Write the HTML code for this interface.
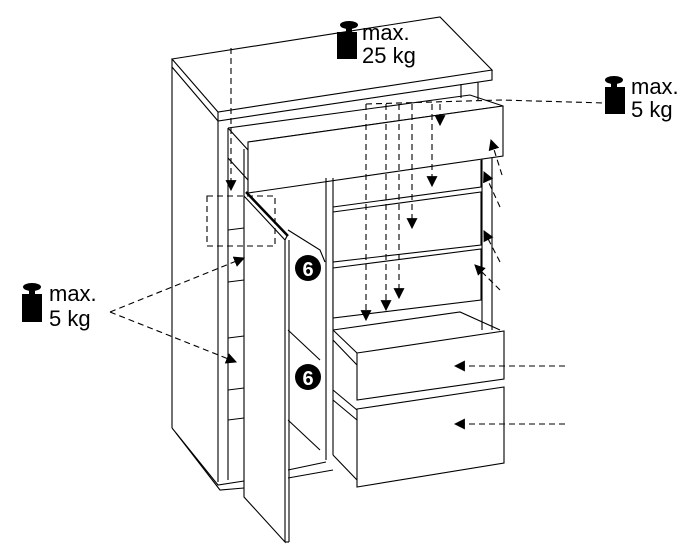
<!DOCTYPE html>
<html><head><style>html,body{margin:0;padding:0;background:#fff;}svg{display:block}</style></head>
<body>
<svg width="694" height="555" viewBox="0 0 694 555" xmlns="http://www.w3.org/2000/svg" font-family="Liberation Sans, sans-serif">
<defs>
<marker id="a" viewBox="0 0 10 10" refX="9" refY="5" markerWidth="10" markerHeight="10" orient="auto"><path d="M0,0L10,5L0,10z" fill="#000"/></marker>
</defs>
<g fill="none" stroke="#000" stroke-width="1.1">
<path d="M172,59 L440,17 L492,70 L218,112 Z" fill="#fff"/>
<path d="M172,59 L172,67 L218,121 L492,80 L492,70"/>
<line x1="218" y1="112" x2="218" y2="121"/>
<line x1="172" y1="67" x2="172" y2="428"/>
<path d="M172,428 L218,485 L244,481"/>
<path d="M176,433 L220,490 L244,488"/>
<line x1="218" y1="121" x2="218" y2="482"/>
<line x1="228" y1="128" x2="228" y2="480"/>
<line x1="228" y1="128" x2="248" y2="150"/>
<line x1="228" y1="158" x2="248" y2="180"/>
<line x1="228" y1="230" x2="244" y2="228"/>
<line x1="228" y1="282" x2="244" y2="280"/>
<line x1="228" y1="338" x2="244" y2="336"/>
<line x1="228" y1="390" x2="244" y2="388"/>
<line x1="228" y1="420" x2="244" y2="418"/>
<line x1="461" y1="84" x2="461" y2="98"/>
<line x1="478" y1="82" x2="478" y2="100"/>
<line x1="482" y1="157" x2="482" y2="330"/>
<line x1="492" y1="152" x2="492" y2="330"/>
<path d="M228,128 L470,95 L503,106 L248,142" />
<path d="M248,142 L503,106 L503,156 L248,193 Z" fill="#fff"/>
<line x1="244" y1="149" x2="244" y2="196"/>
<line x1="326" y1="178" x2="326" y2="460"/>
<line x1="333" y1="178" x2="333" y2="455"/>
<path d="M333,207 L481,187 L481,160"/>
<path d="M333,212 L481,192 L481,245 L333,262 Z" fill="#fff"/>
<path d="M333,268 L481,249 L481,300 L333,318 Z" fill="#fff"/>
<path d="M333,330 L460,312 L500,330"/>
<path d="M333,330 L357,353"/>
<path d="M333,340 L357,365"/>
<path d="M357,353 L504,331 L504,379 L357,400 Z" fill="#fff"/>
<path d="M333,390 L357,410"/>
<path d="M333,400 L357,420"/>
<path d="M357,409 L504,387 L504,463 L357,487 Z" fill="#fff"/>
<path d="M333,455 L357,480"/>
<path d="M288,478 L333,470"/>
<path d="M288,470 L326,462"/>
<path d="M244,196 L285,240 L285,542 L244,497 Z" fill="#fff"/>
<line x1="289" y1="240" x2="289" y2="542"/>
<line x1="285" y1="542" x2="289" y2="542"/>
<path d="M246,192 L288,236" stroke-width="2.5"/>
<path d="M285,240 L287,236"/>
<path d="M288,230 L320,250 L325,262"/>
<path d="M288,330 L320,360"/>
<path d="M288,420 L320,450"/>
</g>
<g>
<circle cx="308" cy="268" r="13" fill="#000"/><text x="308" y="276" font-size="20" font-weight="bold" fill="#fff" text-anchor="middle">6</text>
<circle cx="308" cy="377" r="13" fill="#000"/><text x="308" y="385" font-size="20" font-weight="bold" fill="#fff" text-anchor="middle">6</text>
</g>
<g fill="none" stroke="#000" stroke-width="1.1" stroke-dasharray="6,4" marker-end="url(#a)">
<line x1="231" y1="48" x2="231" y2="190"/>
<line x1="366" y1="104" x2="366" y2="320"/>
<line x1="386" y1="104" x2="386" y2="310"/>
<line x1="399" y1="104" x2="399" y2="298"/>
<line x1="412" y1="104" x2="412" y2="228"/>
<line x1="432" y1="104" x2="432" y2="186"/>
<line x1="440" y1="104" x2="440" y2="125"/>
<line x1="110" y1="312" x2="244" y2="258"/>
<line x1="110" y1="312" x2="236" y2="362"/>
<line x1="565" y1="366" x2="455" y2="366"/>
<line x1="565" y1="424" x2="455" y2="424"/>
<line x1="502" y1="175" x2="491" y2="140"/>
<line x1="500" y1="207" x2="484" y2="172"/>
<line x1="500" y1="262" x2="484" y2="231"/>
<line x1="500" y1="290" x2="475" y2="265"/>
</g>
<g fill="none" stroke="#000" stroke-width="1.1" stroke-dasharray="6,4">
<path d="M366,104 L500,100 L605,103"/>
<rect x="207" y="196" width="68" height="50"/>
</g>
<g fill="#000">
<ellipse cx="349" cy="25" rx="9" ry="4"/><rect x="346" y="27" width="6" height="6"/><rect x="337" y="32" width="20" height="27"/>
<ellipse cx="614" cy="80" rx="9" ry="4"/><rect x="611" y="82" width="6" height="6"/><rect x="605" y="87" width="20" height="27"/>
<ellipse cx="32" cy="287" rx="9" ry="4"/><rect x="29" y="289" width="6" height="6"/><rect x="22" y="294" width="20" height="28"/>
</g>
<g font-size="22" fill="#000">
<text x="362" y="40">max.</text><text x="362" y="63">25 kg</text>
<text x="631" y="94">max.</text><text x="631" y="117">5 kg</text>
<text x="49" y="301">max.</text><text x="49" y="326">5 kg</text>
</g>
</svg>
</body></html>
